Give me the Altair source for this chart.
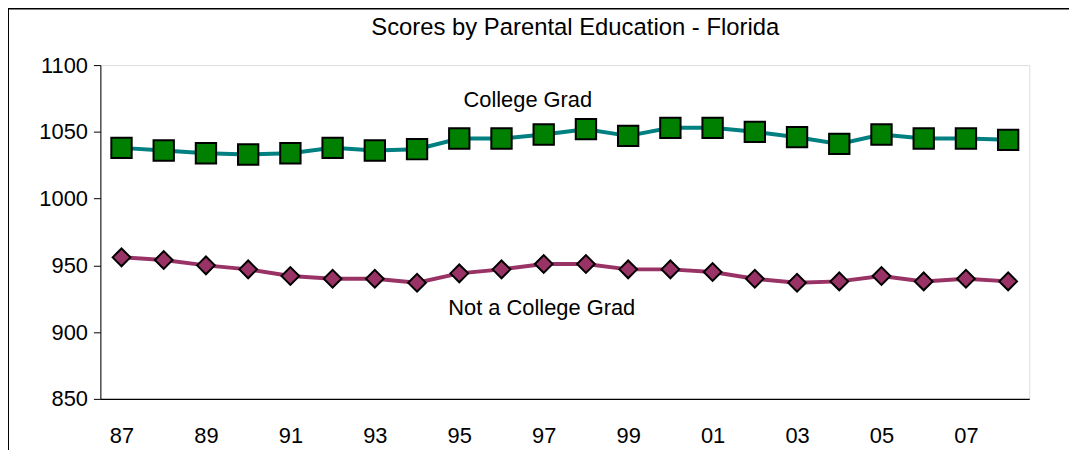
import altair as alt
import pandas as pd

years = ["87", "88", "89", "90", "91", "92", "93", "94", "95", "96", "97",
         "98", "99", "00", "01", "02", "03", "04", "05", "06", "07", "08"]
college_grad = [1038, 1036, 1034, 1033, 1034, 1038, 1036, 1037, 1045, 1045, 1048,
                1052, 1047, 1053, 1053, 1050, 1046, 1041, 1048, 1045, 1045, 1044]
not_college = [956, 954, 950, 947, 942, 940, 940, 937, 944, 947, 951,
               951, 947, 947, 945, 940, 937, 938, 942, 938, 940, 938]
tick_years = ["87", "89", "91", "93", "95", "97", "99", "01", "03", "05", "07"]
y_ticks = [850, 900, 950, 1000, 1050, 1100]

label_text = ["College Grad", "Not a College Grad"]
label_year = ["97", "97"]
label_value = [1074, 918]
title_text = "Scores by Parental Education - Florida"

df_c = pd.DataFrame({"year": years, "score": college_grad})
df_n = pd.DataFrame({"year": years, "score": not_college})
df_l1 = pd.DataFrame({"year": label_year[:1], "score": label_value[:1], "text": label_text[:1]})
df_l2 = pd.DataFrame({"year": label_year[1:], "score": label_value[1:], "text": label_text[1:]})

FONT = "Liberation Sans"

x_enc = alt.X("year:O", sort=years, title=None,
              scale=alt.Scale(domain=years),
              axis=alt.Axis(values=tick_years, labelAngle=0, ticks=False, domainColor="black",
                            domainWidth=1.5, labelFontSize=22, labelPadding=27, labelColor="black",
                            labelFont=FONT))
y_enc = alt.Y("score:Q", title=None,
              scale=alt.Scale(domain=[850, 1100], nice=False, zero=False),
              axis=alt.Axis(values=y_ticks, format="d", grid=False, domainColor="black",
                            tickColor="black", tickSize=7, labelFontSize=22, labelPadding=6,
                            labelColor="black", labelFont=FONT))

base_c = alt.Chart(df_c).encode(x=x_enc, y=y_enc)
base_n = alt.Chart(df_n).encode(x=x_enc, y=y_enc)

line_c = base_c.mark_line(color="#008080", strokeWidth=4)
pts_c = base_c.mark_point(shape="square", filled=True, fill="#008000", stroke="black",
                          strokeWidth=2, size=420, opacity=1)
line_n = base_n.mark_line(color="#993366", strokeWidth=4)
pts_n = base_n.mark_point(shape="diamond", filled=True, fill="#993366", stroke="black",
                          strokeWidth=2, size=320, opacity=1)

def label_layer(df, dx):
    return alt.Chart(df).mark_text(fontSize=22, font=FONT, color="black", dx=dx).encode(
        x=alt.X("year:O", sort=years, scale=alt.Scale(domain=years)),
        y=alt.Y("score:Q", scale=alt.Scale(domain=[850, 1100])),
        text="text:N",
    )

lab1 = label_layer(df_l1, -16)
lab2 = label_layer(df_l2, -2)

title = alt.Chart(pd.DataFrame({"t": [title_text]})).mark_text(
    fontSize=24, font=FONT, color="black", baseline="middle", align="center", clip=False
).encode(x=alt.value(478), y=alt.value(-37), text="t:N")

frame = alt.Chart(pd.DataFrame({"a": [0]})).mark_rect(
    fill=None, stroke="black", strokeWidth=2, clip=False
).encode(x=alt.value(-93), x2=alt.value(1100), y=alt.value(-57), y2=alt.value(500))

chart = alt.layer(frame, line_c, line_n, pts_c, pts_n, lab1, lab2, title).properties(
    width=935,
    height=336,
    autosize=alt.AutoSizeParams(type="none"),
    padding={"left": 93, "top": 56, "right": 40, "bottom": 50},
).configure_view(stroke="#999999", strokeWidth=2.5).configure(background="white")

chart.save("out.html", embed_options={"renderer": "svg", "actions": False})
